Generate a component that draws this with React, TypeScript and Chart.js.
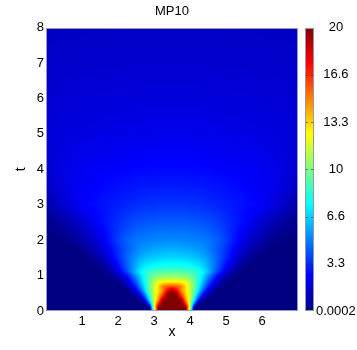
import { useEffect, useRef } from "react";
import { Chart, registerables } from "chart.js";

Chart.register(...registerables);

// ---------- data ----------
const chartTitle = "MP10";
const xAxisTitle = "x";
const yAxisTitle = "t";

const xMin = 0;
const xMax = 7;
const tMin = 0;
const tMax = 8;

const xTickValues = [1, 2, 3, 4, 5, 6];
const tTickValues = [0, 1, 2, 3, 4, 5, 6, 7, 8];

const cbMin = 0.0002;
const cbMax = 20;
const cbTickValues = [0.0002, 3.3335, 6.6668, 10.0001, 13.3334, 16.6667, 20];
const cbTickLabels = ["0.0002", "3.3", "6.6", "10", "13.3", "16.6", "20"];

// grid nodes: x every 0.25 (0.125 between 2.5 and 4.5), t rows below
const xNodes = [
  0, 0.25, 0.5, 0.75, 1, 1.25, 1.5, 1.75, 2, 2.25, 2.5, 2.625, 2.75, 2.875, 3,
  3.125, 3.25, 3.375, 3.5, 3.625, 3.75, 3.875, 4, 4.125, 4.25, 4.375, 4.5, 4.75,
  5, 5.25, 5.5, 5.75, 6, 6.25, 6.5, 6.75, 7,
];
const tNodes = [
  0, 0.1, 0.2, 0.3, 0.4, 0.5, 0.6, 0.7, 0.8, 0.9, 1.0, 1.1, 1.25, 1.5, 1.75, 2,
  2.5, 3, 3.5, 4, 5, 6, 7, 8,
];

// u(x, t) values, one row per t node
const uT000 = [0,0,0,0,0,0,0,0,0,0,0,0,0,0,10,20,20,20,20,20,20,20,10,0,0,0,0,0,0,0,0,0,0,0,0,0,0];
const uT010 = [0,0,0,0,0,0,0,0,0,0,0,0,0,0.1,11.5,20,20,20,20,20,20,20,11.5,0.1,0,0,0,0,0,0,0,0,0,0,0,0,0];
const uT020 = [0,0,0,0,0,0,0,0,0,0,0,0,0.1,4.2,11.5,17.4,20,20,20,20,20,17.4,11.5,4.2,0.1,0,0,0,0,0,0,0,0,0,0,0,0];
const uT030 = [0,0,0,0,0,0,0,0,0,0,0,0.1,2.3,6.8,11.5,15,20,20,20,20,20,15,11.5,6.8,2.3,0.1,0,0,0,0,0,0,0,0,0,0,0];
const uT040 = [0,0,0,0,0,0,0,0,0,0,0.1,1.6,4.2,8,11.5,14,17.4,20,20,20,17.4,14,11.5,8,4.2,1.6,0.1,0,0,0,0,0,0,0,0,0,0];
const uT050 = [0,0,0,0,0,0,0,0,0,0,1.2,3,5.7,8.9,11.5,13.4,15.8,19.2,20,19.2,15.8,13.4,11.5,8.9,5.7,3,1.2,0,0,0,0,0,0,0,0,0,0];
const uT060 = [0,0,0,0,0,0,0,0,0,0.1,2.3,4.2,6.8,9.4,11.5,13.1,15,17.2,18.8,17.2,15,13.1,11.5,9.4,6.8,4.2,2.3,0.1,0,0,0,0,0,0,0,0,0];
const uT070 = [0,0,0,0,0,0,0,0,0,0.7,3.3,5.3,7.4,9.5,11.3,13.2,15,15.6,15.8,15.6,15,13.2,11.3,9.5,7.4,5.3,3.3,0.7,0,0,0,0,0,0,0,0,0];
const uT080 = [0,0,0,0,0,0,0,0,0.1,1.4,4.1,5.9,7.7,9.4,11,12.5,13,13.2,13.2,13.2,13,12.5,11,9.4,7.7,5.9,4.1,1.4,0.1,0,0,0,0,0,0,0,0];
const uT090 = [0,0,0,0,0,0,0,0,0.5,2,4.8,6.4,7.9,9.3,10.4,11,11.2,11.3,11.3,11.3,11.2,11,10.4,9.3,7.9,6.4,4.8,2,0.5,0,0,0,0,0,0,0,0];
const uT100 = [0,0,0,0,0,0,0,0.1,1,2.8,5.4,6.7,7.9,8.9,9.6,10,10.1,10.2,10.2,10.2,10.1,10,9.6,8.9,7.9,6.7,5.4,2.8,1,0.1,0,0,0,0,0,0,0];
const uT110 = [0,0,0,0,0,0,0,0.4,1.8,3.8,6.3,7.3,8.1,8.6,8.9,9.1,9.2,9.25,9.3,9.25,9.2,9.1,8.9,8.6,8.1,7.3,6.3,3.8,1.8,0.4,0,0,0,0,0,0,0];
const uT125 = [0,0,0,0,0,0,0.2,1,2.5,4.3,6,6.7,7.2,7.5,7.7,7.85,7.9,8,8,8,7.9,7.85,7.7,7.5,7.2,6.7,6,4.3,2.5,1,0.2,0,0,0,0,0,0];
const uT150 = [0,0,0,0,0.05,0.3,0.9,1.9,3.2,4.5,5.5,5.9,6.2,6.35,6.5,6.6,6.7,6.75,6.8,6.75,6.7,6.6,6.5,6.35,6.2,5.9,5.5,4.5,3.2,1.9,0.9,0.3,0.05,0,0,0,0];
const uT175 = [0,0,0,0.05,0.3,0.8,1.5,2.4,3.4,4.3,5,5.28,5.5,5.6,5.7,5.78,5.85,5.88,5.9,5.88,5.85,5.78,5.7,5.6,5.5,5.28,5,4.3,3.4,2.4,1.5,0.8,0.3,0.05,0,0,0];
const uT200 = [0,0.05,0.15,0.4,0.8,1.3,2,2.8,3.7,4.4,4.8,4.9,5,5.05,5.1,5.15,5.2,5.2,5.2,5.2,5.2,5.15,5.1,5.05,5,4.9,4.8,4.4,3.7,2.8,2,1.3,0.8,0.4,0.15,0.05,0];
const uT250 = [0.2,0.4,0.7,1.1,1.6,2.1,2.6,3,3.4,3.75,4,4.08,4.15,4.2,4.25,4.28,4.3,4.3,4.3,4.3,4.3,4.28,4.25,4.2,4.15,4.08,4,3.75,3.4,3,2.6,2.1,1.6,1.1,0.7,0.4,0.2];
const uT300 = [0.75,1.2,1.65,2.05,2.4,2.6,2.75,2.9,3.05,3.2,3.3,3.35,3.4,3.43,3.45,3.48,3.5,3.5,3.5,3.5,3.5,3.48,3.45,3.43,3.4,3.35,3.3,3.2,3.05,2.9,2.75,2.6,2.4,2.05,1.65,1.2,0.75];
const uT350 = [1.3,1.6,1.9,2.1,2.3,2.45,2.55,2.65,2.75,2.83,2.9,2.93,2.95,2.97,2.98,2.99,3,3,3,3,3,2.99,2.98,2.97,2.95,2.93,2.9,2.83,2.75,2.65,2.55,2.45,2.3,2.1,1.9,1.6,1.3];
const uT400 = [1.6,1.8,1.95,2.08,2.2,2.28,2.35,2.4,2.45,2.5,2.55,2.57,2.58,2.59,2.6,2.6,2.6,2.6,2.6,2.6,2.6,2.6,2.6,2.59,2.58,2.57,2.55,2.5,2.45,2.4,2.35,2.28,2.2,2.08,1.95,1.8,1.6];
const uT500 = [1.72,1.77,1.82,1.86,1.9,1.94,1.97,2,2.02,2.04,2.06,2.07,2.08,2.09,2.1,2.1,2.1,2.1,2.1,2.1,2.1,2.1,2.1,2.09,2.08,2.07,2.06,2.04,2.02,2,1.97,1.94,1.9,1.86,1.82,1.77,1.72];
const uT600 = [1.6,1.63,1.66,1.68,1.7,1.72,1.74,1.75,1.76,1.77,1.78,1.79,1.79,1.8,1.8,1.8,1.8,1.8,1.8,1.8,1.8,1.8,1.8,1.8,1.79,1.79,1.78,1.77,1.76,1.75,1.74,1.72,1.7,1.68,1.66,1.63,1.6];
const uT700 = [1.45,1.47,1.48,1.49,1.5,1.51,1.52,1.53,1.53,1.54,1.54,1.55,1.55,1.55,1.55,1.55,1.55,1.55,1.55,1.55,1.55,1.55,1.55,1.55,1.55,1.55,1.54,1.54,1.53,1.53,1.52,1.51,1.5,1.49,1.48,1.47,1.45];
const uT800 = [1.3,1.31,1.32,1.33,1.34,1.35,1.35,1.36,1.36,1.37,1.37,1.37,1.38,1.38,1.38,1.38,1.38,1.38,1.38,1.38,1.38,1.38,1.38,1.38,1.38,1.37,1.37,1.37,1.36,1.36,1.35,1.35,1.34,1.33,1.32,1.31,1.3];

const gridRows = [
  uT000, uT010, uT020, uT030, uT040, uT050, uT060, uT070, uT080, uT090, uT100,
  uT110, uT125, uT150, uT175, uT200, uT250, uT300, uT350, uT400, uT500, uT600,
  uT700, uT800,
];

// ---------- helpers ----------
const FONT = "'Liberation Sans', Arial, Helvetica, sans-serif";

function clamp01(v: number) {
  return v < 0 ? 0 : v > 1 ? 1 : v;
}

function jet(v: number): [number, number, number] {
  const f = clamp01((v - cbMin) / (cbMax - cbMin));
  const r = clamp01(1.5 - Math.abs(4 * f - 3));
  const g = clamp01(1.5 - Math.abs(4 * f - 2));
  const b = clamp01(1.5 - Math.abs(4 * f - 1));
  return [Math.round(r * 255), Math.round(g * 255), Math.round(b * 255)];
}

function findIdx(nodes: number[], v: number) {
  for (let i = 0; i < nodes.length - 1; i++) {
    if (v <= nodes[i + 1]) return i;
  }
  return nodes.length - 2;
}

function sample(x: number, t: number) {
  const i = findIdx(xNodes, x);
  const j = findIdx(tNodes, t);
  const fx = clamp01((x - xNodes[i]) / (xNodes[i + 1] - xNodes[i]));
  const ft = clamp01((t - tNodes[j]) / (tNodes[j + 1] - tNodes[j]));
  const r0 = gridRows[j];
  const r1 = gridRows[j + 1];
  const a = (r0[i] ?? 0) * (1 - fx) + (r0[i + 1] ?? 0) * fx;
  const b = (r1[i] ?? 0) * (1 - fx) + (r1[i + 1] ?? 0) * fx;
  return a * (1 - ft) + b * ft;
}

const heatmapPlugin = {
  id: "heatmapPlugin",
  beforeDatasetsDraw(chart: any) {
    const { ctx, chartArea, scales } = chart;
    const xs = scales.x;
    const ys = scales.y;
    const cb = scales.cb;
    const left = Math.round(chartArea.left);
    const top = Math.round(chartArea.top);
    const right = Math.round(chartArea.right);
    const bottom = Math.round(chartArea.bottom);
    const w = right - left;
    const h = bottom - top;
    const off = document.createElement("canvas");
    off.width = w;
    off.height = h;
    const octx = off.getContext("2d")!;
    const img = octx.createImageData(w, h);
    for (let py = 0; py < h; py++) {
      const t = ys.getValueForPixel(top + py + 0.5);
      for (let px = 0; px < w; px++) {
        const x = xs.getValueForPixel(left + px + 0.5);
        const [r, g, b] = jet(sample(x, t));
        const k = (py * w + px) * 4;
        img.data[k] = r;
        img.data[k + 1] = g;
        img.data[k + 2] = b;
        img.data[k + 3] = 255;
      }
    }
    octx.putImageData(img, 0, 0);
    ctx.save();
    ctx.drawImage(off, left, top);
    ctx.strokeStyle = "rgb(150,150,200)";
    ctx.lineWidth = 1;
    ctx.strokeRect(left + 0.5, top + 0.5, w - 1, h - 1);

    // colour bar
    const bx = right + 7;
    const bw = 9;
    const btop = Math.round(cb.top);
    const bbot = Math.round(cb.bottom);
    for (let py = btop; py < bbot; py++) {
      const v = cb.getValueForPixel(py + 0.5);
      const [r, g, b] = jet(v);
      ctx.fillStyle = `rgb(${r},${g},${b})`;
      ctx.fillRect(bx, py, bw, 1);
    }
    ctx.strokeStyle = "rgb(150,150,170)";
    ctx.strokeRect(bx + 0.5, btop + 0.5, bw - 1, bbot - btop - 1);
    ctx.strokeStyle = "rgba(40,40,40,0.6)";
    for (const v of cbTickValues.slice(1, -1)) {
      const y = Math.round(cb.getPixelForValue(v)) + 0.5;
      ctx.beginPath();
      ctx.moveTo(bx + bw - 3, y);
      ctx.lineTo(bx + bw - 1, y);
      ctx.moveTo(bx + 1, y);
      ctx.lineTo(bx + 3, y);
      ctx.stroke();
    }
    ctx.restore();
  },
};

export default function App() {
  const canvasRef = useRef<HTMLCanvasElement | null>(null);

  useEffect(() => {
    const canvas = canvasRef.current;
    if (!canvas) return;
    Chart.defaults.font.family = FONT;
    const chart = new Chart(canvas, {
      type: "scatter",
      data: { datasets: [{ data: [], showLine: false }] },
      options: {
        responsive: false,
        animation: false,
        layout: { padding: 0 },
        plugins: {
          legend: { display: false },
          tooltip: { enabled: false },
          title: {
            display: true,
            text: chartTitle,
            fullSize: false,
            color: "#000",
            font: { family: FONT, size: 13, weight: "normal" },
            padding: { top: 4, bottom: 8 },
          },
        },
        scales: {
          x: {
            type: "linear",
            min: xMin,
            max: xMax,
            afterBuildTicks: (s: any) => {
              s.ticks = xTickValues.map((v) => ({ value: v }));
            },
            afterFit: (s: any) => {
              s.height = 39;
            },
            grid: { display: false, drawTicks: false },
            border: { display: false },
            ticks: {
              padding: 3,
              autoSkip: false,
              maxRotation: 0,
              color: "#000",
              font: { family: FONT, size: 13 },
            },
            title: {
              display: true,
              text: xAxisTitle,
              color: "#000",
              font: { family: FONT, size: 14 },
              padding: { top: 0, bottom: 9 },
            },
          },
          y: {
            type: "linear",
            min: tMin,
            max: tMax,
            afterBuildTicks: (s: any) => {
              s.ticks = tTickValues.map((v) => ({ value: v }));
            },
            afterFit: (s: any) => {
              s.width = 46;
            },
            grid: { display: false, drawTicks: false },
            border: { display: false },
            ticks: {
              padding: 2,
              autoSkip: false,
              color: "#000",
              font: { family: FONT, size: 13 },
            },
            title: {
              display: true,
              text: yAxisTitle,
              color: "#000",
              font: { family: FONT, size: 14 },
              padding: { top: 13, bottom: 0 },
            },
          },
          cb: {
            type: "linear",
            axis: "y",
            position: "right",
            min: cbMin,
            max: cbMax,
            afterBuildTicks: (s: any) => {
              s.ticks = cbTickValues.map((v) => ({ value: v }));
            },
            afterFit: (s: any) => {
              s.width = 59;
            },
            grid: { display: false, drawTicks: false },
            border: { display: false },
            ticks: {
              padding: 18,
              crossAlign: "center",
              autoSkip: false,
              color: "#000",
              font: { family: FONT, size: 13 },
              callback: (_v: any, i: number) => cbTickLabels[i],
            },
          },
        },
      } as any,
      plugins: [heatmapPlugin],
    });
    return () => chart.destroy();
  }, []);

  return (
    <div
      style={{
        position: "absolute",
        left: 0,
        top: 0,
        width: 357,
        height: 350,
        background: "#fff",
      }}
    >
      <canvas
        ref={canvasRef}
        width={357}
        height={350}
        style={{ width: 357, height: 350, display: "block" }}
      />
    </div>
  );
}
